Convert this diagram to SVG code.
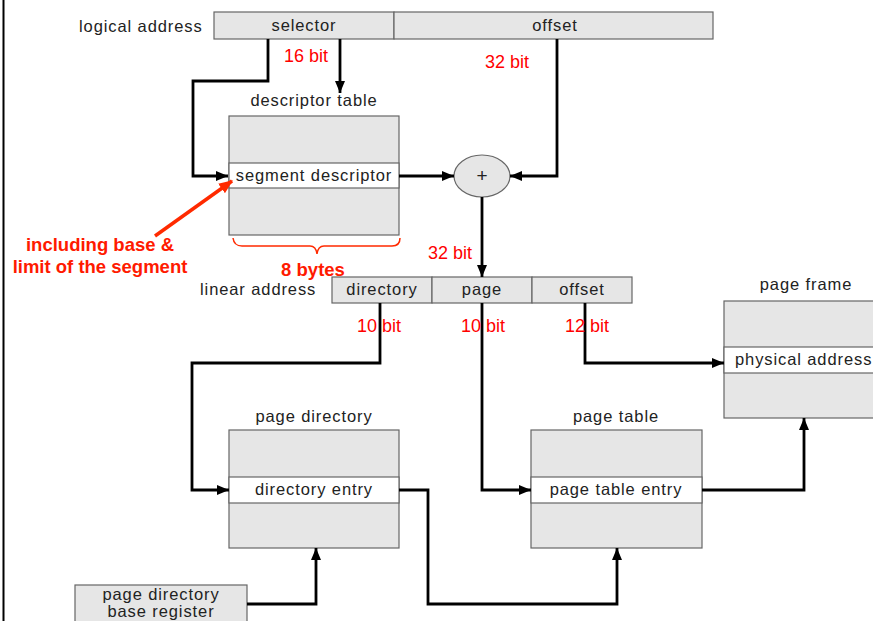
<svg xmlns="http://www.w3.org/2000/svg" width="873" height="621" viewBox="0 0 873 621">
<defs>
<style>
.lbl{font-family:"Liberation Sans",Arial,sans-serif;font-size:16.5px;letter-spacing:0.9px;fill:#222;}
.c{text-anchor:middle;}
.red{font-family:"Liberation Sans",Arial,sans-serif;font-size:18px;fill:#ff0000;}
.redb{font-family:"Liberation Sans",Arial,sans-serif;font-size:18.5px;font-weight:bold;fill:#ff1a00;text-anchor:middle;}
.box{fill:#e6e6e6;stroke:#666;stroke-width:1.2;}
.row{fill:#fff;stroke:#666;stroke-width:1.2;}
.conn{fill:none;stroke:#000;stroke-width:2.8;}
</style>
<marker id="ah" viewBox="0 0 12 10" refX="12" refY="5" markerWidth="12" markerHeight="10" markerUnits="userSpaceOnUse" orient="auto">
<path d="M0,0 L12,5 L0,10 z" fill="#000"/>
</marker>
<marker id="ahr" viewBox="0 0 12 10" refX="11" refY="5" markerWidth="14" markerHeight="12" markerUnits="userSpaceOnUse" orient="auto">
<path d="M0,0 L12,5 L0,10 z" fill="#ff2a00"/>
</marker>
</defs>
<rect width="873" height="621" fill="#fff"/>
<line x1="3.5" y1="0" x2="3.5" y2="621" stroke="#000" stroke-width="2"/>

<g id="logical-address">
<text class="lbl" x="79" y="32">logical address</text>
<rect class="box" x="214" y="12" width="180" height="27"/>
<rect class="box" x="394" y="12" width="319" height="27"/>
<text class="lbl c" x="304" y="31">selector</text>
<text class="lbl c" x="555" y="31">offset</text>
</g>

<g id="descriptor-table">
<text class="lbl c" x="314" y="106">descriptor table</text>
<rect class="box" x="229" y="116" width="170" height="119"/>
<rect class="row" x="229" y="163" width="170" height="25"/>
<text class="lbl c" x="314" y="181">segment descriptor</text>
</g>

<g id="adder">
<ellipse cx="482" cy="176" rx="28" ry="21" fill="#e6e6e6" stroke="#666" stroke-width="1.2"/>
<text x="482" y="182" style="font-family:'Liberation Sans',Arial,sans-serif;font-size:19px;fill:#222;text-anchor:middle">+</text>
</g>

<g id="linear-address">
<text class="lbl" x="200" y="295">linear address</text>
<rect class="box" x="332" y="277" width="100" height="26"/>
<rect class="box" x="432" y="277" width="100" height="26"/>
<rect class="box" x="532" y="277" width="100" height="26"/>
<text class="lbl c" x="382" y="295">directory</text>
<text class="lbl c" x="482" y="295">page</text>
<text class="lbl c" x="582" y="295">offset</text>
</g>

<g id="page-frame">
<text class="lbl c" x="806" y="290">page frame</text>
<rect class="box" x="724" y="301" width="160" height="117"/>
<rect class="row" x="724" y="347" width="160" height="26"/>
<text class="lbl" x="735" y="365">physical address</text>
</g>

<g id="page-directory">
<text class="lbl c" x="314" y="422">page directory</text>
<rect class="box" x="229" y="430" width="170" height="118"/>
<rect class="row" x="229" y="477" width="170" height="26"/>
<text class="lbl c" x="314" y="495">directory entry</text>
</g>

<g id="page-table">
<text class="lbl c" x="616" y="422">page table</text>
<rect class="box" x="531" y="430" width="171" height="118"/>
<rect class="row" x="531" y="477" width="171" height="26"/>
<text class="lbl c" x="616" y="495">page table entry</text>
</g>

<g id="pdbr">
<rect x="75" y="585" width="172" height="40" fill="#e6e6e6" stroke="#666" stroke-width="1.2"/>
<text class="lbl c" x="161" y="600">page directory</text>
<text class="lbl c" x="161" y="617">base register</text>
</g>

<g id="connectors">
<path class="conn" d="M268,39 V81 H193 V176 H228" marker-end="url(#ah)"/>
<path class="conn" d="M340,39 V93" marker-end="url(#ah)"/>
<path class="conn" d="M557,39 V176 H510" marker-end="url(#ah)"/>
<path class="conn" d="M399,176 H454" marker-end="url(#ah)"/>
<path class="conn" d="M482,197 V277" marker-end="url(#ah)"/>
<path class="conn" d="M380,303 V363 H192 V490 H229" marker-end="url(#ah)"/>
<path class="conn" d="M482,303 V490 H531" marker-end="url(#ah)"/>
<path class="conn" d="M585,303 V363 H724" marker-end="url(#ah)"/>
<path class="conn" d="M399,490 H428 V604 H617 V548" marker-end="url(#ah)"/>
<path class="conn" d="M702,490 H804 V418" marker-end="url(#ah)"/>
<path class="conn" d="M247,604 H316 V548" marker-end="url(#ah)"/>
</g>

<g id="annotations">
<text class="red" x="284" y="62">16 bit</text>
<text class="red" x="485" y="68">32 bit</text>
<text class="red" x="428" y="259">32 bit</text>
<text class="red" x="357" y="332">10 bit</text>
<text class="red" x="461" y="332">10 bit</text>
<text class="red" x="565" y="332">12 bit</text>
<path d="M233,238 Q234,246 242,246 H310 Q316,246 317,254 Q318,246 324,246 H392 Q400,246 400,238" fill="none" stroke="#ff2a00" stroke-width="1.5"/>
<text class="redb" x="313" y="276">8 bytes</text>
<text class="redb" x="100" y="251">including base &amp;</text>
<text class="redb" x="100" y="273">limit of the segment</text>
<line x1="155" y1="236" x2="232" y2="181" stroke="#ff2a00" stroke-width="3.5" marker-end="url(#ahr)"/>
</g>
</svg>
